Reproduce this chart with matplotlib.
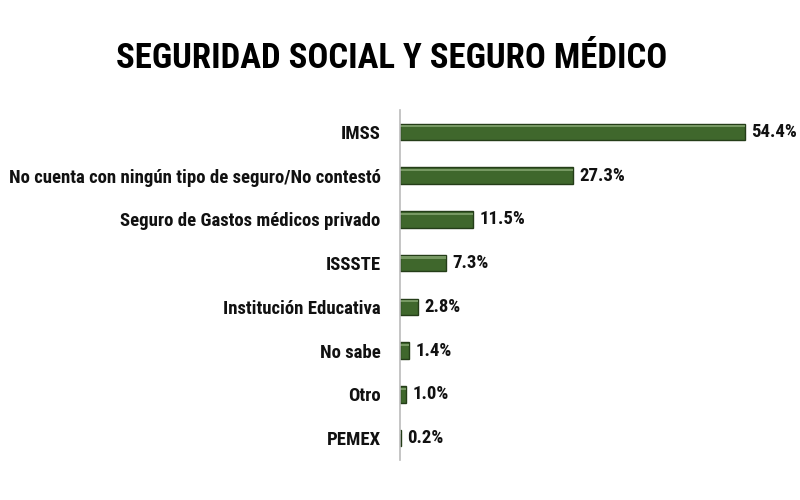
import matplotlib
matplotlib.use('Agg')
import matplotlib.pyplot as plt
from matplotlib import font_manager
import numpy as np

# datos
categorias = ['IMSS', 'No cuenta con ningún tipo de seguro/No contestó',
              'Seguro de Gastos médicos privado', 'ISSSTE', 'Institución Educativa',
              'No sabe', 'Otro', 'PEMEX']
valores = [54.4, 27.3, 11.5, 7.3, 2.8, 1.4, 1.0, 0.2]

# fuente condensada si existe
nombres = {f.name for f in font_manager.fontManager.ttflist}
fuente = 'Roboto'
for cand in ['Liberation Sans Narrow', 'Roboto Condensed', 'DejaVu Sans Condensed']:
    if cand in nombres:
        fuente = cand
        break
plt.rcParams['font.family'] = [fuente, 'DejaVu Sans']

fig = plt.figure(figsize=(8, 5), dpi=100)
ax = fig.add_axes([0.5, 0.08, 0.46, 0.70])

y = np.arange(len(categorias))
ax.barh(y, valores, height=0.38, color='#3f672c', edgecolor='#243d18', linewidth=1.0)
# brillo superior de la barra
ax.barh(y - 0.13, valores, height=0.05, color='#86a672', linewidth=0, alpha=0.8)

for yi, v in zip(y, valores):
    ax.text(v + 1.0, yi, f'{v:.1f}%', va='center', ha='left',
            fontsize=13.5, fontweight='bold', color='#111111')

ax.set_yticks(y)
ax.set_yticklabels(categorias, fontsize=13.5, fontweight='bold', color='#111111')
ax.set_ylim(len(categorias) - 0.5, -0.5)
ax.set_xlim(0, 58)
ax.tick_params(axis='y', length=0, pad=14)
ax.set_xticks([])
for s in ['top', 'right', 'bottom']:
    ax.spines[s].set_visible(False)
ax.spines['left'].set_color('#bbbbbb')
ax.spines['left'].set_linewidth(1.2)

fig.text(0.489, 0.884, 'SEGURIDAD SOCIAL Y SEGURO MÉDICO', ha='center', va='center',
         fontsize=25, fontweight='bold', color='black')

plt.savefig('out.png', dpi=100)
plt.close()
